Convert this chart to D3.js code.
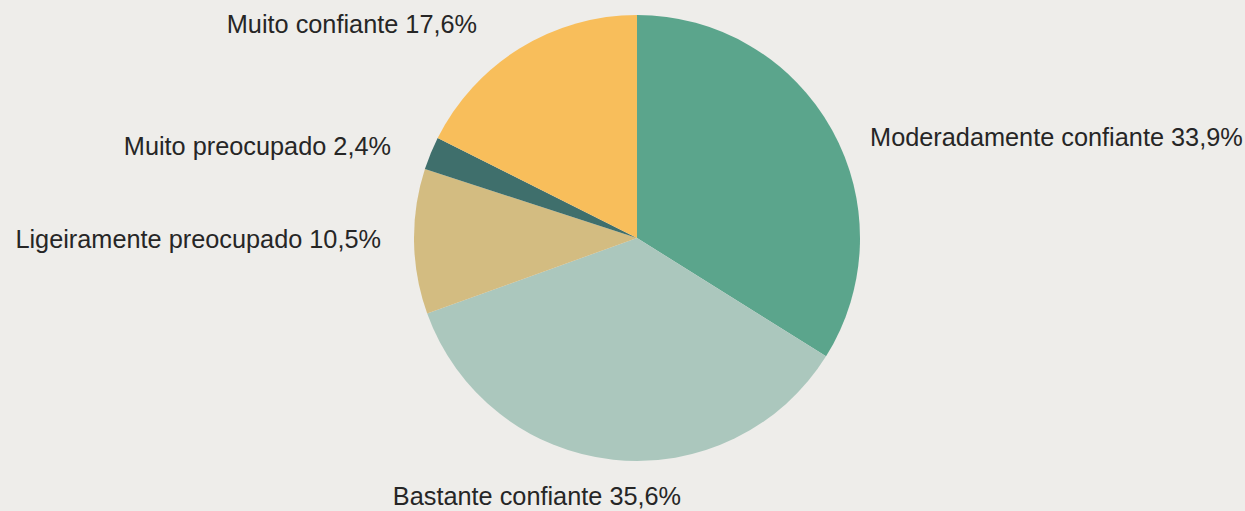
<!DOCTYPE html>
<html><head><meta charset="utf-8">
<script src="https://cdn.jsdelivr.net/npm/d3@7"></script>
<style>
html,body{margin:0;padding:0;background:#eeedea;}
svg{display:block;}
</style></head>
<body>
<svg id="chart" width="1245" height="511"></svg>
<script>
const categories = ["Moderadamente confiante","Bastante confiante","Ligeiramente preocupado","Muito preocupado","Muito confiante"];
const values = [33.9, 35.6, 10.5, 2.4, 17.6];
const valueLabels = ["33,9%","35,6%","10,5%","2,4%","17,6%"];
const colors = ["#5ba58c","#abc7bd","#d3bc81","#3f6f6c","#f8be5b"];
// label layout: text-anchor and nudge from the outer anchor point
const labelLayout = [
  {anchor:"start", dx:27.5, dy:22},
  {anchor:"middle", dx:-75, dy:33},
  {anchor:"end", dx:-21, dy:6},
  {anchor:"end", dx:-28.6, dy:6},
  {anchor:"end", dx:-36.5, dy:-5}
];

const W=1245,H=511, cx=637, cy=238, r=223, labelR=235;
const svg=d3.select("#chart");
svg.append("rect").attr("width",W).attr("height",H).attr("fill","#eeedea");
const data=categories.map((c,i)=>({cat:c,value:values[i],label:valueLabels[i],color:colors[i],layout:labelLayout[i]}));
const pie=d3.pie().sort(null).value(d=>d.value);
const arc=d3.arc().innerRadius(0).outerRadius(r);
const g=svg.append("g").attr("transform",`translate(${cx},${cy})`);
const arcs=pie(data);
g.selectAll("path").data(arcs).join("path")
  .attr("d",arc).attr("fill",d=>d.data.color);
g.selectAll("text").data(arcs).join("text")
  .attr("x",d=>{const a=(d.startAngle+d.endAngle)/2;return labelR*Math.sin(a)+d.data.layout.dx;})
  .attr("y",d=>{const a=(d.startAngle+d.endAngle)/2;return -labelR*Math.cos(a)+d.data.layout.dy;})
  .attr("text-anchor",d=>d.data.layout.anchor)
  .style("font-family","'Liberation Sans', Arial, sans-serif")
  .style("font-size","25.3px")
  .attr("fill","#262626")
  .text(d=>d.data.cat+" "+d.data.label);
</script>
</body></html>
